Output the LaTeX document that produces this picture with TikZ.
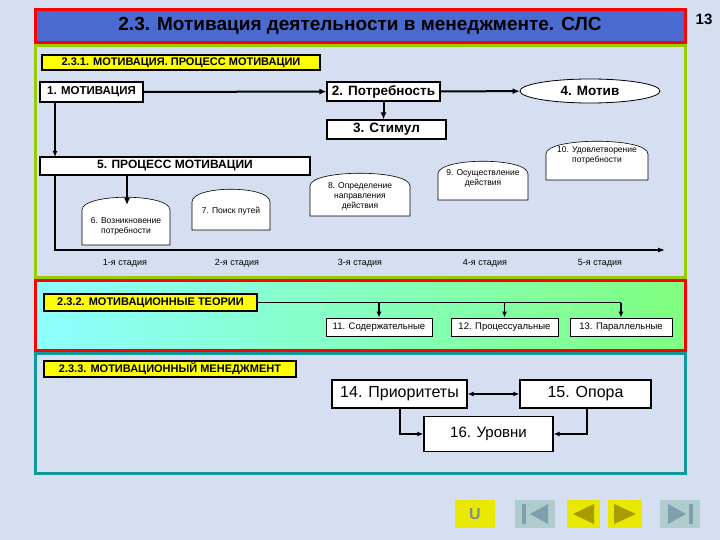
\documentclass[tikz,border=0pt]{standalone}
\usepackage{fontspec}
\setmainfont{Liberation Sans}
\usetikzlibrary{arrows.meta,shapes.geometric}
\definecolor{bgc}{HTML}{D6DEF2}
\definecolor{ttl}{HTML}{4A6AD0}
\definecolor{grn}{HTML}{99CC00}
\definecolor{tea}{HTML}{119999}
\definecolor{ylw}{HTML}{FFFF00}
\definecolor{btn}{HTML}{E8E800}
\definecolor{gbtn}{HTML}{B0CCCC}
\begin{document}
\begin{tikzpicture}[x=1pt,y=-1pt,
 box/.style={draw=black,fill=white,line width=1.2pt,inner sep=0pt},
 hdr/.style={draw=black,fill=ylw,line width=1.2pt,inner sep=0pt,font=\fontsize{11}{12}\selectfont\bfseries},
 dome/.style={draw=black,fill=white,line width=0.6pt},
 small/.style={font=\fontsize{8.5}{10}\selectfont,align=center},
 arr/.style={line width=2pt,-{Latex[length=7pt,width=6pt]}},
 thin/.style={line width=1.5pt,-{Latex[length=6pt,width=5pt]}}]
\useasboundingbox (0,0) rectangle (720,540);
\fill[bgc] (0,0) rectangle (720,540);
% title
\draw[red,line width=3pt,fill=ttl] (35,10) rectangle (685,43);
\node[font=\fontsize{19}{20}\selectfont\bfseries] (title) at (360,26) {2.3. Мотивация деятельности в менеджменте. СЛС};
\node[font=\fontsize{15}{16}\selectfont\bfseries] (pg) at (704,19) {13};
% section 1
\draw[grn,line width=3pt] (35,46) rectangle (685,277);
\node[hdr,minimum width=278,minimum height=15] (h1) at (181,62.5) {2.3.1. МОТИВАЦИЯ. ПРОЦЕСС МОТИВАЦИИ};
\node[box,minimum width=103,minimum height=20,font=\fontsize{11.5}{12}\selectfont\bfseries] (n1) at (91.5,92) {1. МОТИВАЦИЯ};
\node[box,minimum width=113,minimum height=19,font=\fontsize{13.5}{14}\selectfont\bfseries] (n2) at (383.5,91.5) {2. Потребность};
\node[ellipse,draw,fill=white,line width=0.8pt,minimum width=140,minimum height=24,inner sep=0pt,font=\fontsize{13.5}{14}\selectfont\bfseries] (n4) at (590,91) {4. Мотив};
\node[box,minimum width=119,minimum height=19,font=\fontsize{13.5}{14}\selectfont\bfseries] (n3) at (386.5,129.5) {3. Стимул};
\draw[arr] (n1) -- (n2);
\draw[arr] (n2) -- (n4);
\draw[arr] (n2.south) -- (n2.south|-n3.north);
\node[box,minimum width=270,minimum height=18,font=\fontsize{12}{13}\selectfont\bfseries] (n5) at (175,166) {5. ПРОЦЕСС МОТИВАЦИИ};
\coordinate (c1) at (55,102);
\draw[thin] (c1) -- (55,157);
\coordinate (ax0) at (55,175);
\coordinate (ax1) at (665,250);
\draw[line width=1.2pt,-{Latex[length=7pt,width=5pt]}] (ax0) -- (55,250) -- (ax1);
% domes
\foreach \nm/\xa/\xb/\ya/\yb in {d6/82/170/196/245, d7/192/270/188/230, d8/310/410/172/216, d9/438/528/160/200, d10/546/648/140/180}{
 \draw[dome] (\xa,\yb) -- (\xa,{\ya+14}) .. controls (\xa,\ya-3) and (\xb,\ya-3) .. (\xb,{\ya+14}) -- (\xb,\yb) -- cycle;
}
\node[small] (t6) at (126,226) {6. Возникновение\\потребности};
\node[small] (t7) at (231,211) {7. Поиск путей};
\node[small] (t8) at (360,196) {8. Определение\\направления\\действия};
\node[small] (t9) at (483,178) {9. Осуществление\\действия};
\node[small] (t10) at (597,155) {10. Удовлетворение\\потребности};
\coordinate (c6) at (127,205);
\draw[arr] (127,175) -- (c6);
\foreach \nm/\x/\t in {s1/125/1-я стадия, s2/237/2-я стадия, s3/360/3-я стадия, s4/485/4-я стадия, s5/600/5-я стадия}
 \node[font=\fontsize{9}{10}\selectfont] (\nm) at (\x,263) {\t};
% section 2
\shade[left color=cyan!45!white, right color=green!50!white] (35,280) rectangle (685,350);
\draw[red,line width=3pt] (35,280) rectangle (685,350);
\node[hdr,minimum width=213,minimum height=17] (h2) at (150.5,302.5) {2.3.2. МОТИВАЦИОННЫЕ ТЕОРИИ};
\node[box,line width=0.8pt,minimum width=106,minimum height=18,font=\fontsize{9.5}{10}\selectfont] (n11) at (379,327) {11. Содержательные};
\node[box,line width=0.8pt,minimum width=107,minimum height=18,font=\fontsize{9.5}{10}\selectfont] (n12) at (504.5,327) {12. Процессуальные};
\node[box,line width=0.8pt,minimum width=102,minimum height=18,font=\fontsize{9.5}{10}\selectfont] (n13) at (621,327) {13. Параллельные};
\draw[line width=1.5pt] (h2.east) -- (n13.north|-h2.east);
\draw[thin] (n11.north|-h2.east) -- (n11.north);
\draw[thin] (n12.north|-h2.east) -- (n12.north);
\draw[thin] (n13.north|-h2.east) -- (n13.north);
% section 3
\draw[tea,line width=3pt] (35,353) rectangle (685,473);
\node[hdr,minimum width=252,minimum height=16] (h3) at (170,369) {2.3.3. МОТИВАЦИОННЫЙ МЕНЕДЖМЕНТ};
\node[box,minimum width=135,minimum height=28,font=\fontsize{16}{17}\selectfont] (n14) at (399.5,394) {14. Приоритеты};
\node[box,minimum width=131,minimum height=28,font=\fontsize{16}{17}\selectfont] (n15) at (585.5,394) {15. Опора};
\node[box,minimum width=129,minimum height=35,font=\fontsize{15}{16}\selectfont] (n16) at (488.5,434) {16. Уровни};
\draw[thin,{Latex[length=6pt,width=5pt]}-{Latex[length=6pt,width=5pt]}] (n14) -- (n15);
\draw[thin] (400,408) |- (n16.west);
\draw[thin] (587,408) |- (n16.east);
% nav buttons
\fill[btn] (455,500) rectangle (495,528);
\node[font=\fontsize{16}{16}\selectfont\bfseries,text=gbtn!70!black] (b1) at (475,514) {U};
\fill[gbtn] (515,500) rectangle (555,528);
\fill[gray!70!cyan] (522,504) rectangle (526,524);
\fill[gray!70!cyan] (548,504) -- (530,514) -- (548,524) -- cycle;
\fill[btn] (567,500) rectangle (600,528);
\fill[olive!80!yellow] (594,504) -- (573,514) -- (594,524) -- cycle;
\fill[btn] (608,500) rectangle (642,528);
\fill[olive!80!yellow] (614,504) -- (636,514) -- (614,524) -- cycle;
\fill[gbtn] (660,500) rectangle (700,528);
\fill[gray!70!cyan] (668,504) -- (686,514) -- (668,524) -- cycle;
\fill[gray!70!cyan] (689,504) rectangle (693,524);
\end{tikzpicture}
\end{document}
